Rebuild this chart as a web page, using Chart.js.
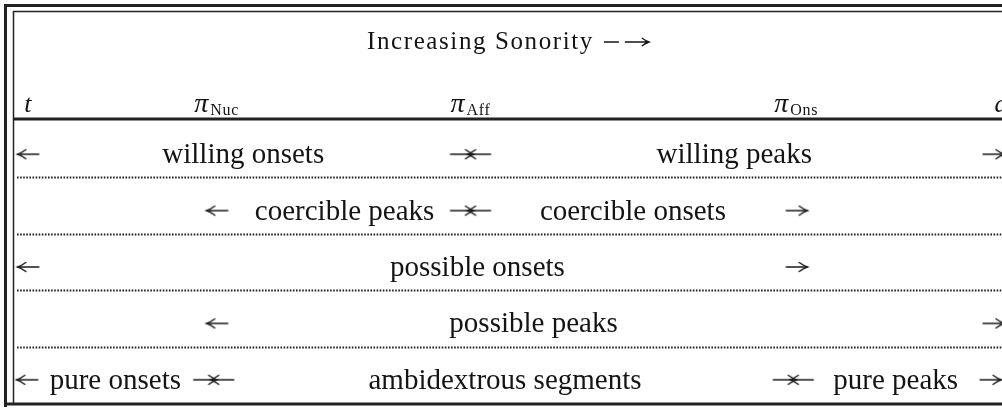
<!DOCTYPE html>
<html>
<head>
<meta charset="utf-8">
<script src="https://cdn.jsdelivr.net/npm/chart.js@4.4.0/dist/chart.umd.min.js"></script>
<style>
  html, body { margin: 0; padding: 0; background: #fff; overflow: hidden; }
  #wrap { width: 1002px; height: 408px; position: relative; }
</style>
</head>
<body>
<div id="wrap"><canvas id="sonorityChart"></canvas></div>
<script>
// header
const axisTitle = 'Increasing Sonority';
const landmarkNames = ['t', 'Nuc', 'Aff', 'Ons', 'a'];
const landmarkX = [1.5, 20.7, 46.5, 79.6, 100.4]; // position on the sonority scale (0-100)

// rows of the table, top to bottom
const rowNames = ['willing', 'coercible', 'possible onsets', 'possible peaks', 'pure'];

// text in each row
const segmentLabels = ['willing onsets', 'willing peaks', 'coercible peaks', 'coercible onsets',
  'possible onsets', 'possible peaks', 'pure onsets', 'ambidextrous segments', 'pure peaks'];
const segmentRow = [0, 0, 1, 1, 2, 3, 4, 4, 4];
const segmentX = [23.4, 73.3, 33.7, 63.0, 47.2, 52.9, 10.4, 50.0, 89.7];

// arrows marking the ends of each range
const leftArrowRow = [0, 1, 2, 3, 4];
const leftArrowX = [1.5, 20.7, 1.5, 20.7, 1.4];
const rightArrowRow = [0, 1, 2, 3, 4];
const rightArrowX = [99.7, 79.7, 79.7, 99.7, 99.4];
const meetArrowRow = [0, 1, 4, 4];
const meetArrowX = [46.5, 46.5, 20.4, 79.3];

const ink = '#141414';
const serif = '"Liberation Serif", "Times New Roman", serif';

function toPoints(xs, rows) {
  return xs.map((x, i) => ({ x: x, y: rowNames[rows[i]] }));
}

// arrow glyphs used as point styles
function arrowImage(kind) {
  const c = document.createElement('canvas');
  c.width = 48;
  c.height = 40;
  const g = c.getContext('2d');
  g.strokeStyle = '#1a1a1a';
  g.lineWidth = 1.5;
  g.lineCap = 'round';
  const y = 25;
  const shaft = (x1, x2) => {
    g.beginPath();
    g.moveTo(x1, y);
    g.lineTo(x2, y);
    g.stroke();
  };
  const head = (tip, dir) => {
    g.beginPath();
    g.moveTo(tip - dir * 8, y - 4.5);
    g.quadraticCurveTo(tip - dir * 3, y - 1, tip, y);
    g.quadraticCurveTo(tip - dir * 3, y + 1, tip - dir * 8, y + 4.5);
    g.stroke();
  };
  if (kind === 'left') {
    shaft(14, 35); head(14, -1);
  } else if (kind === 'right') {
    shaft(13, 34); head(34, 1);
  } else {
    shaft(4, 27); head(27, 1);
    shaft(44, 21); head(21, -1);
  }
  return c;
}

const tablePlugin = {
  id: 'sonorityTable',
  beforeDatasetsDraw(chart) {
    const { ctx, chartArea, width } = chart;
    const yScale = chart.scales.y;
    ctx.save();
    ctx.strokeStyle = '#222';

    // outer double frame
    ctx.lineWidth = 3;
    ctx.beginPath();
    ctx.moveTo(4, 5.5); ctx.lineTo(width, 5.5);
    ctx.moveTo(5.5, 4); ctx.lineTo(5.5, 407);
    ctx.moveTo(4, chartArea.bottom + 1); ctx.lineTo(width, chartArea.bottom + 1);
    ctx.stroke();
    ctx.lineWidth = 1.5;
    ctx.beginPath();
    ctx.moveTo(chartArea.left, 11.5); ctx.lineTo(width, 11.5);
    ctx.moveTo(chartArea.left + 0.5, 11); ctx.lineTo(chartArea.left + 0.5, chartArea.bottom);
    ctx.stroke();

    // rule under the header
    ctx.lineWidth = 2.8;
    ctx.beginPath();
    ctx.moveTo(chartArea.left, chartArea.top - 2);
    ctx.lineTo(width, chartArea.top - 2);
    ctx.stroke();

    // dotted rules between rows
    ctx.strokeStyle = '#1e1e1e';
    ctx.lineWidth = 1.8;
    ctx.setLineDash([1.6, 1.5]);
    for (let i = 0; i < rowNames.length - 1; i++) {
      const yy = Math.round((yScale.getPixelForValue(i) + yScale.getPixelForValue(i + 1)) / 2) + 0.5;
      ctx.beginPath();
      ctx.moveTo(chartArea.left + 4, yy);
      ctx.lineTo(width, yy);
      ctx.stroke();
    }
    ctx.restore();
  },
  afterDatasetsDraw(chart) {
    const { ctx, chartArea } = chart;
    const xScale = chart.scales.x;
    ctx.save();
    ctx.fillStyle = ink;
    ctx.textBaseline = 'alphabetic';

    // segment names
    const meta = chart.getDatasetMeta(0);
    ctx.font = '29px ' + serif;
    ctx.textAlign = 'center';
    meta.data.forEach((el, i) => {
      ctx.fillText(segmentLabels[i], el.x, el.y + 14);
    });

    // axis title with its arrow
    ctx.font = '25px ' + serif;
    ctx.letterSpacing = '1.6px';
    ctx.textAlign = 'left';
    const tw = ctx.measureText(axisTitle).width;
    const total = tw + 57;
    const cx = xScale.getPixelForValue(50.4);
    const tx = cx - total / 2;
    const ty = 49;
    ctx.fillText(axisTitle, tx, ty);
    ctx.letterSpacing = '0px';
    ctx.strokeStyle = ink;
    ctx.lineWidth = 1.4;
    const ay = ty - 7;
    ctx.beginPath();
    ctx.moveTo(tx + tw + 10, ay); ctx.lineTo(tx + tw + 25, ay);
    ctx.moveTo(tx + tw + 31, ay); ctx.lineTo(tx + tw + 55, ay);
    ctx.moveTo(tx + tw + 48, ay - 4); ctx.quadraticCurveTo(tx + tw + 52, ay - 1, tx + tw + 55, ay);
    ctx.quadraticCurveTo(tx + tw + 52, ay + 1, tx + tw + 48, ay + 4);
    ctx.stroke();

    // landmark labels
    const base = chartArea.top - 9;
    landmarkNames.forEach((name, i) => {
      const px = xScale.getPixelForValue(landmarkX[i]);
      if (name.length === 1) {
        ctx.font = 'italic 26px ' + serif;
        ctx.textAlign = 'center';
        ctx.fillText(name, px, base);
      } else {
        ctx.font = 'italic 28px ' + serif;
        const pw = ctx.measureText('\u03c0').width;
        ctx.font = '16px ' + serif;
        ctx.letterSpacing = '0.8px';
        const sw = ctx.measureText(name).width;
        const left = px - (pw + 2 + sw) / 2;
        ctx.textAlign = 'left';
        ctx.fillText(name, left + pw + 2, base + 3);
        ctx.letterSpacing = '0px';
        ctx.font = 'italic 28px ' + serif;
        ctx.fillText('\u03c0', left, base);
      }
    });
    ctx.restore();
  }
};

new Chart(document.getElementById('sonorityChart'), {
  type: 'scatter',
  data: {
    datasets: [
      { label: 'segments', data: toPoints(segmentX, segmentRow), pointRadius: 0 },
      { label: 'left', data: toPoints(leftArrowX, leftArrowRow), pointStyle: arrowImage('left'), clip: false },
      { label: 'right', data: toPoints(rightArrowX, rightArrowRow), pointStyle: arrowImage('right'), clip: false },
      { label: 'meet', data: toPoints(meetArrowX, meetArrowRow), pointStyle: arrowImage('meet'), clip: false }
    ]
  },
  options: {
    responsive: true,
    maintainAspectRatio: false,
    animation: false,
    layout: { padding: { top: 121, bottom: 4, left: 13, right: 0 } },
    scales: {
      x: { type: 'linear', min: 0, max: 100, display: false },
      y: { type: 'category', labels: rowNames, offset: true, display: false }
    },
    plugins: {
      legend: { display: false },
      tooltip: { enabled: false }
    }
  },
  plugins: [tablePlugin]
});
</script>
</body>
</html>
